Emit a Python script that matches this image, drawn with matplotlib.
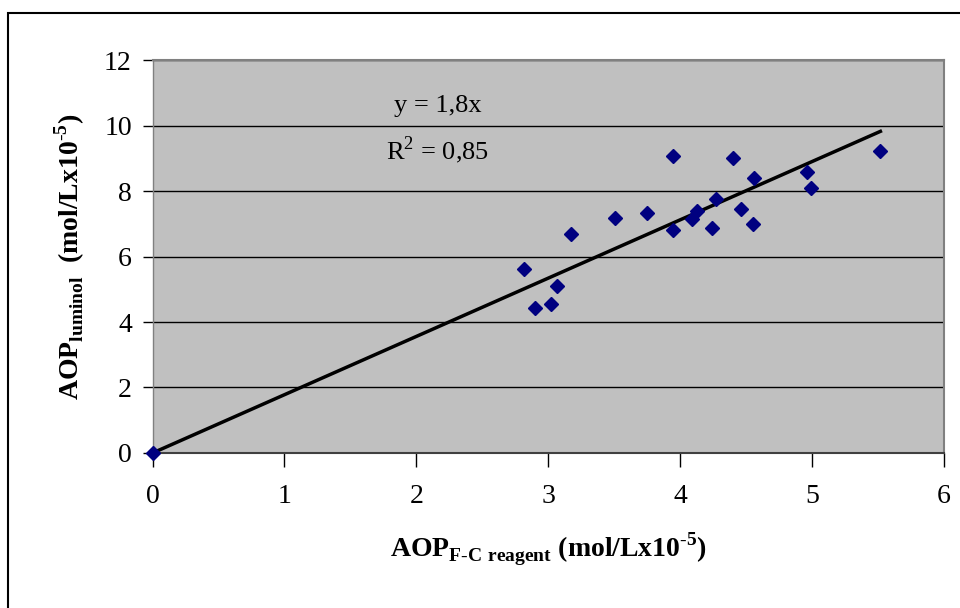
import matplotlib
matplotlib.use("Agg")
import matplotlib.pyplot as plt
import numpy as np
from matplotlib.patches import Rectangle

plt.rcParams['font.family'] = ['Liberation Serif', 'DejaVu Serif']
plt.rcParams['mathtext.fontset'] = 'custom'
plt.rcParams['mathtext.rm'] = 'Liberation Serif'
plt.rcParams['mathtext.bf'] = 'Liberation Serif:bold'

# valeurs
aop_fc = [0.0, 2.82, 2.90, 3.02, 3.07, 3.17, 3.51, 3.75, 3.95, 3.95, 4.09,
          4.13, 4.24, 4.27, 4.40, 4.46, 4.55, 4.56, 4.96, 4.99, 5.52]
aop_lum = [0.0, 5.62, 4.43, 4.55, 5.09, 6.69, 7.17, 7.34, 9.07, 6.80, 7.14,
           7.40, 6.86, 7.77, 9.02, 7.45, 6.98, 8.40, 8.58, 8.11, 9.24]
slope = 1.78
eq_text = "y = 1,8x"
r2_text = "R$^2$ = 0,85"
xticks = [0, 1, 2, 3, 4, 5, 6]
yticks = [0, 2, 4, 6, 8, 10, 12]

fig = plt.figure(figsize=(9.6, 6.08), dpi=100)
ax = fig.add_axes([0.159, 0.255, 0.824, 0.646])
ax.set_facecolor('#C0C0C0')

# cadre extérieur
fig.patches.append(Rectangle((0.008, -0.2), 1.2, 0.979 + 0.2, transform=fig.transFigure,
                             fill=False, edgecolor='black', linewidth=1.5))

ax.set_xlim(0, 6)
ax.set_ylim(0, 12)
ax.set_xticks(xticks)
ax.set_yticks(yticks)
ax.yaxis.grid(True, color='black', linewidth=1)
ax.set_axisbelow(True)

xs = np.array([0, max(aop_fc)])
ax.plot(xs, slope * xs, color='black', linewidth=2.5, zorder=3)
ax.plot(aop_fc, aop_lum, linestyle='none', marker='D', markersize=7.5,
        color='#000080', clip_on=False, zorder=4)

ax.text(2.16, 10.6, eq_text, fontsize=19, ha='center', va='center')
ax.text(2.16, 9.25, r2_text, fontsize=19, ha='center', va='center')

for side in ['top', 'right']:
    ax.spines[side].set_color('#808080')
    ax.spines[side].set_linewidth(1.5)
ax.spines['bottom'].set_color('#404040')
ax.spines['bottom'].set_linewidth(1.5)
ax.spines['left'].set_color('#808080')
ax.spines['left'].set_linewidth(1)

ax.tick_params(axis='x', direction='out', length=10, width=1, labelsize=20, pad=12)
ax.tick_params(axis='y', direction='out', length=7, width=1, labelsize=20, pad=8)

ax.set_xlabel(r'AOP$_{\mathbf{F\text{-}C\ reagent}}$ (mol/Lx10$^{\mathbf{\text{-}5}}$)',
              fontsize=20, fontweight='bold', labelpad=16)
ax.set_ylabel(r'AOP$_{\mathbf{luminol}}$  (mol/Lx10$^{\mathbf{\text{-}5}}$)',
              fontsize=20, fontweight='bold', labelpad=12)

fig.savefig('out.png', dpi=100)
